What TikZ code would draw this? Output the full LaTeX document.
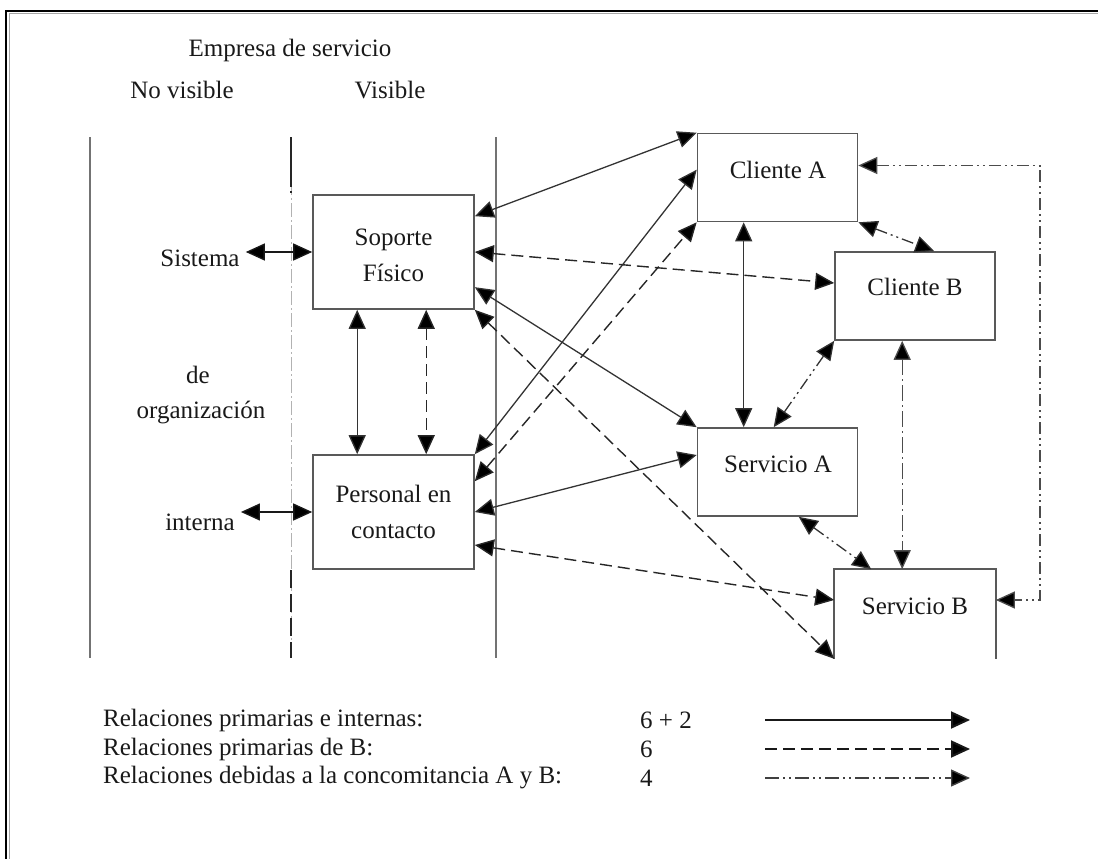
\documentclass[tikz,border=0pt]{standalone}
\usepackage{fontspec}
\setmainfont{Liberation Serif}
\usetikzlibrary{arrows.meta,calc}
\begin{document}
\begin{tikzpicture}[x=1pt,y=-1pt,
  txt/.style={font=\fontsize{25}{36}\selectfont,inner sep=0pt,align=center,text=black!90},
  boxbig/.style={draw=black!65,line width=1.6pt,minimum width=161pt,minimum height=114pt,inner sep=0pt},
  boxsm/.style={draw=black!65,line width=1.6pt,minimum width=160pt,minimum height=88pt,inner sep=0pt},
  sep/.style={draw=black!55,line width=1.1pt},
  tip/.style={-{Triangle[length=19pt,width=17pt,fill=black]}},
  both/.style={{Triangle[length=19pt,width=17pt,fill=black]}-{Triangle[length=19pt,width=17pt,fill=black]}},
  solidc/.style={both,draw=black!80,line width=1.3pt},
  dashc/.style={both,draw=black!85,line width=1.4pt,dash pattern=on 12pt off 6pt},
  dotc/.style={both,draw=black!80,line width=1.3pt,dash pattern=on 12pt off 4pt on 2pt off 4pt on 2pt off 4pt},
  dashdotc/.style={both,draw=black!70,line width=1.3pt,dash pattern=on 16pt off 4pt on 2pt off 4pt}
]
\useasboundingbox (0,0) rectangle (1098,859);
% frame
\draw[black!35,line width=1pt] (9,859) -- (9,14) -- (1098,14);
\draw[black,line width=2.6pt] (6,859) -- (6,11) -- (1098,11);

% headers
\node[txt] (empresa) at (290,50) {Empresa de servicio};
\node[txt] (novis) at (182,90) {No visible};
\node[txt] (vis) at (390,90) {Visible};

% separators
\coordinate (s1t) at (90,137); \coordinate (s1b) at (90,658);
\coordinate (s2t) at (291,137); \coordinate (s2m) at (291,193); \coordinate (s2n) at (291,570); \coordinate (s2b) at (291,658);
\coordinate (s3t) at (496,137); \coordinate (s3b) at (496,658);
\draw[sep] (s1t) -- (s1b);
\draw[draw=black!30,line width=0.9pt,dash pattern=on 14pt off 3pt on 2pt off 3pt] (s2t) -- (s2b);
\draw[draw=black!85,line width=1.3pt,dash pattern=on 50pt off 4pt on 2pt off 40pt] (s2t) -- (s2m);
\draw[draw=black!85,line width=1.3pt,dash pattern=on 18pt off 6pt] (s2n) -- (s2b);
\draw[sep] (s3t) -- (s3b);

% boxes
\node[boxbig] (soporte) at (393.5,252) {};
\node[boxbig] (personal) at (393.5,512) {};
\node[boxsm] (clienteA) at (777.5,177.5) {};
\node[boxsm] (clienteB) at (915,296) {};
\node[boxsm] (servA) at (777.5,472) {};
\node[boxsm,draw=none] (servB) at (915,614) {};
\draw[draw=black!65,line width=1.6pt] (servB.south west) -- (servB.north west) -- (servB.north east) -- (servB.south east);

% box texts
\node[txt] (tsop) at (393.5,255) {Soporte\\Físico};
\node[txt] (tper) at (393.5,512) {Personal en\\contacto};
\node[txt] (tcA) at (778,170) {Cliente A};
\node[txt] (tcB) at (915,287) {Cliente B};
\node[txt] (tsA) at (778,464) {Servicio A};
\node[txt] (tsB) at (915,606) {Servicio B};

% left labels
\node[txt] (sistema) at (200,258) {Sistema};
\node[txt] (de) at (198,375) {de};
\node[txt] (org) at (201,413) {organización};
\node[txt] (interna) at (200,522) {interna};

% internal relations
\draw[solidc,draw=black!90] ($(sistema.east |- soporte.west)+(6,0)$) -- (soporte.west);
\draw[solidc,draw=black!90] ($(interna.east |- personal.west)+(6,0)$) -- (personal.west);

% Soporte - Personal
\draw[solidc] ($(soporte.south west)+(45,0)$) -- ($(personal.north west)+(45,0)$);
\draw[dashc] ($(soporte.south west)+(114,0)$) -- ($(personal.north west)+(114,0)$);

% Soporte connections
\draw[solidc] ($(soporte.north east)+(0,22)$) -- (clienteA.north west);
\draw[dashc] (soporte.east) -- ($(clienteB.west)+(0,-13)$);
\draw[solidc] ($(soporte.north east)+(0,93)$) -- (servA.north west);
\draw[dashc] (soporte.south east) -- (servB.south west);

% Personal connections
\draw[solidc] (personal.north east) -- ($(clienteA.north west)+(0,37)$);
\draw[dashc] ($(personal.north east)+(0,27)$) -- (clienteA.south west);
\draw[solidc] (personal.east) -- ($(servA.west)+(0,-17)$);
\draw[dashc] ($(personal.east)+(0,33)$) -- ($(servB.west)+(0,-14)$);

% Client/Service verticals
\draw[solidc] ($(clienteA.south west)+(47,0)$) -- ($(servA.north west)+(47,0)$);
\draw[dashdotc] ($(clienteB.south west)+(68,0)$) -- ($(servB.north west)+(68,0)$);

% concomitance
\draw[dotc] (clienteA.south east) -- ($(clienteB.north west)+(100,0)$);
\draw[dotc] (clienteB.south west) -- ($(servA.north west)+(77,0)$);
\draw[dotc] ($(servA.south west)+(102,0)$) -- ($(servB.north west)+(37,0)$);
\coordinate (cAr) at ($(clienteA.east)+(0,-12)$);
\coordinate (sBr) at ($(servB.east)+(0,-14)$);
\coordinate (loopx) at (1040,0);
\draw[dotc,draw=black!70] (cAr) -- (cAr -| loopx) -- (sBr -| loopx) -- (sBr);

% legend
\node[txt,anchor=west] (l1) at (103,720) {Relaciones primarias e internas:};
\node[txt,anchor=west] (l2) at (103,749) {Relaciones primarias de B:};
\node[txt,anchor=west] (l3) at (103,778) {Relaciones debidas a la concomitancia A y B:};
\node[txt,anchor=west] (n1) at (640,720) {6 + 2};
\node[txt,anchor=west] (n2) at (640,749) {6};
\node[txt,anchor=west] (n3) at (640,778) {4};
\coordinate (a1) at (765,720); \coordinate (b1) at (970,720);
\coordinate (a2) at (765,749); \coordinate (b2) at (970,749);
\coordinate (a3) at (765,778); \coordinate (b3) at (970,778);
\draw[tip,draw=black!90,line width=2pt] (a1) -- (b1);
\draw[tip,draw=black!90,line width=2pt,dash pattern=on 12pt off 6pt] (a2) -- (b2);
\draw[tip,draw=black!75,line width=1.4pt,dash pattern=on 14pt off 4pt on 2pt off 4pt on 2pt off 4pt] (a3) -- (b3);
\end{tikzpicture}
\end{document}
